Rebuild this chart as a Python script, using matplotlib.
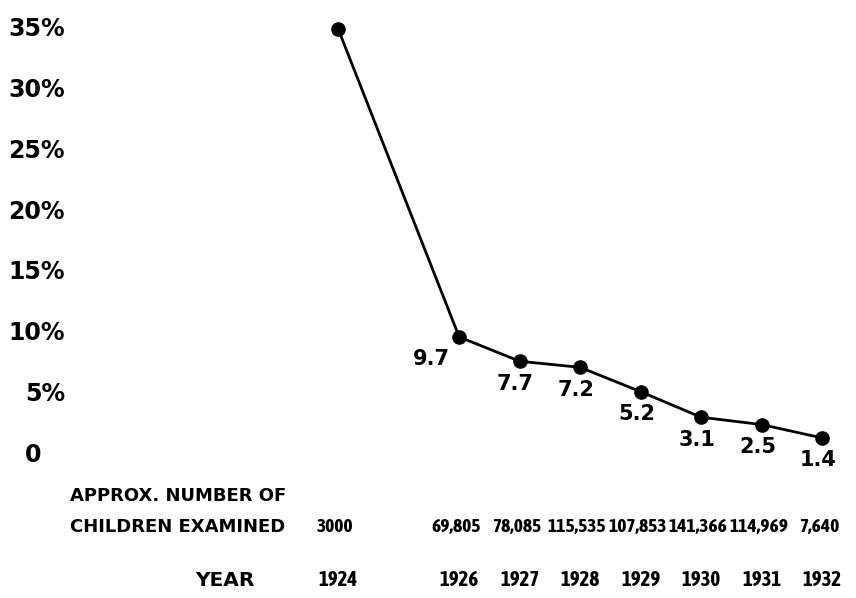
import matplotlib.pyplot as plt
from matplotlib import font_manager

years = [1924, 1926, 1927, 1928, 1929, 1930, 1931, 1932]
percent = [35.0, 9.7, 7.7, 7.2, 5.2, 3.1, 2.5, 1.4]
point_labels = ['', '9.7', '7.7', '7.2', '5.2', '3.1', '2.5', '1.4']
children = ['3000', '69,805', '78,085', '115,535', '107,853', '141,366', '114,969', '7,640']
y_ticks = [0, 5, 10, 15, 20, 25, 30, 35]
y_tick_labels = ['0', '5%', '10%', '15%', '20%', '25%', '30%', '35%']

# look for a bold condensed face for the crowded rows
cond_stretch = ('condensed', 'semi-condensed', 'extra-condensed', 75, 87)
bold_w = ('bold', 'semibold', 'demibold', 'heavy', 'extra bold', 600, 700, 800)
cond = sorted({f.name for f in font_manager.fontManager.ttflist
               if f.stretch in cond_stretch and f.weight in bold_w})
narrow_name = cond[0] if cond else 'DejaVu Sans'

plt.rcParams['font.family'] = ['DejaVu Sans']
plt.rcParams['font.weight'] = 'bold'

fig = plt.figure(figsize=(8.56, 5.98), dpi=100)
ax = fig.add_axes([0, 0, 1, 1])
ax.set_xlim(1918.41, 1932.56)
ax.set_ylim(-11.75, 37.38)
ax.axis('off')

ax.plot(years, percent, color='black', lw=2.0, marker='o', ms=9.5, zorder=3)

for i, (x, y, lab) in enumerate(zip(years, percent, point_labels)):
    if lab:
        dx = -20 if i == 1 else -3
        ax.annotate(lab, (x, y), xytext=(dx, -9), textcoords='offset points',
                    ha='center', va='top', fontsize=15, fontweight='bold')

# y scale labels on the left
for v, lab in zip(y_ticks, y_tick_labels):
    if lab == '0':
        ax.text(1918.41 + 33 / 60.5, v, lab, ha='center', va='center', fontsize=17, fontweight='bold')
    else:
        ax.text(1918.41 + 65 / 60.5, v, lab, ha='right', va='center', fontsize=17, fontweight='bold')

# rows under the chart
row_trans = ax.get_xaxis_transform()
wide = dict(fontweight='bold', va='center')
kw = dict(fontweight='bold', family=narrow_name, fontstretch='condensed', va='center')
ax.text(0.082, 1 - 496 / 598, 'APPROX. NUMBER OF', transform=ax.transAxes,
        ha='left', fontsize=13, **wide)
ax.text(0.082, 1 - 527 / 598, 'CHILDREN EXAMINED', transform=ax.transAxes,
        ha='left', fontsize=13, **wide)
ax.text(0.263, 1 - 580 / 598, 'YEAR', transform=ax.transAxes,
        ha='center', fontsize=14.5, **wide)

for x, n in zip(years, children):
    ax.text(x - 0.05, 1 - 527 / 598, n, transform=row_trans, ha='center', fontsize=14, **kw)
    ax.text(x, 1 - 580 / 598, str(x), transform=row_trans, ha='center', fontsize=15, **kw)

fig.savefig('out.png', dpi=100, facecolor='white')
